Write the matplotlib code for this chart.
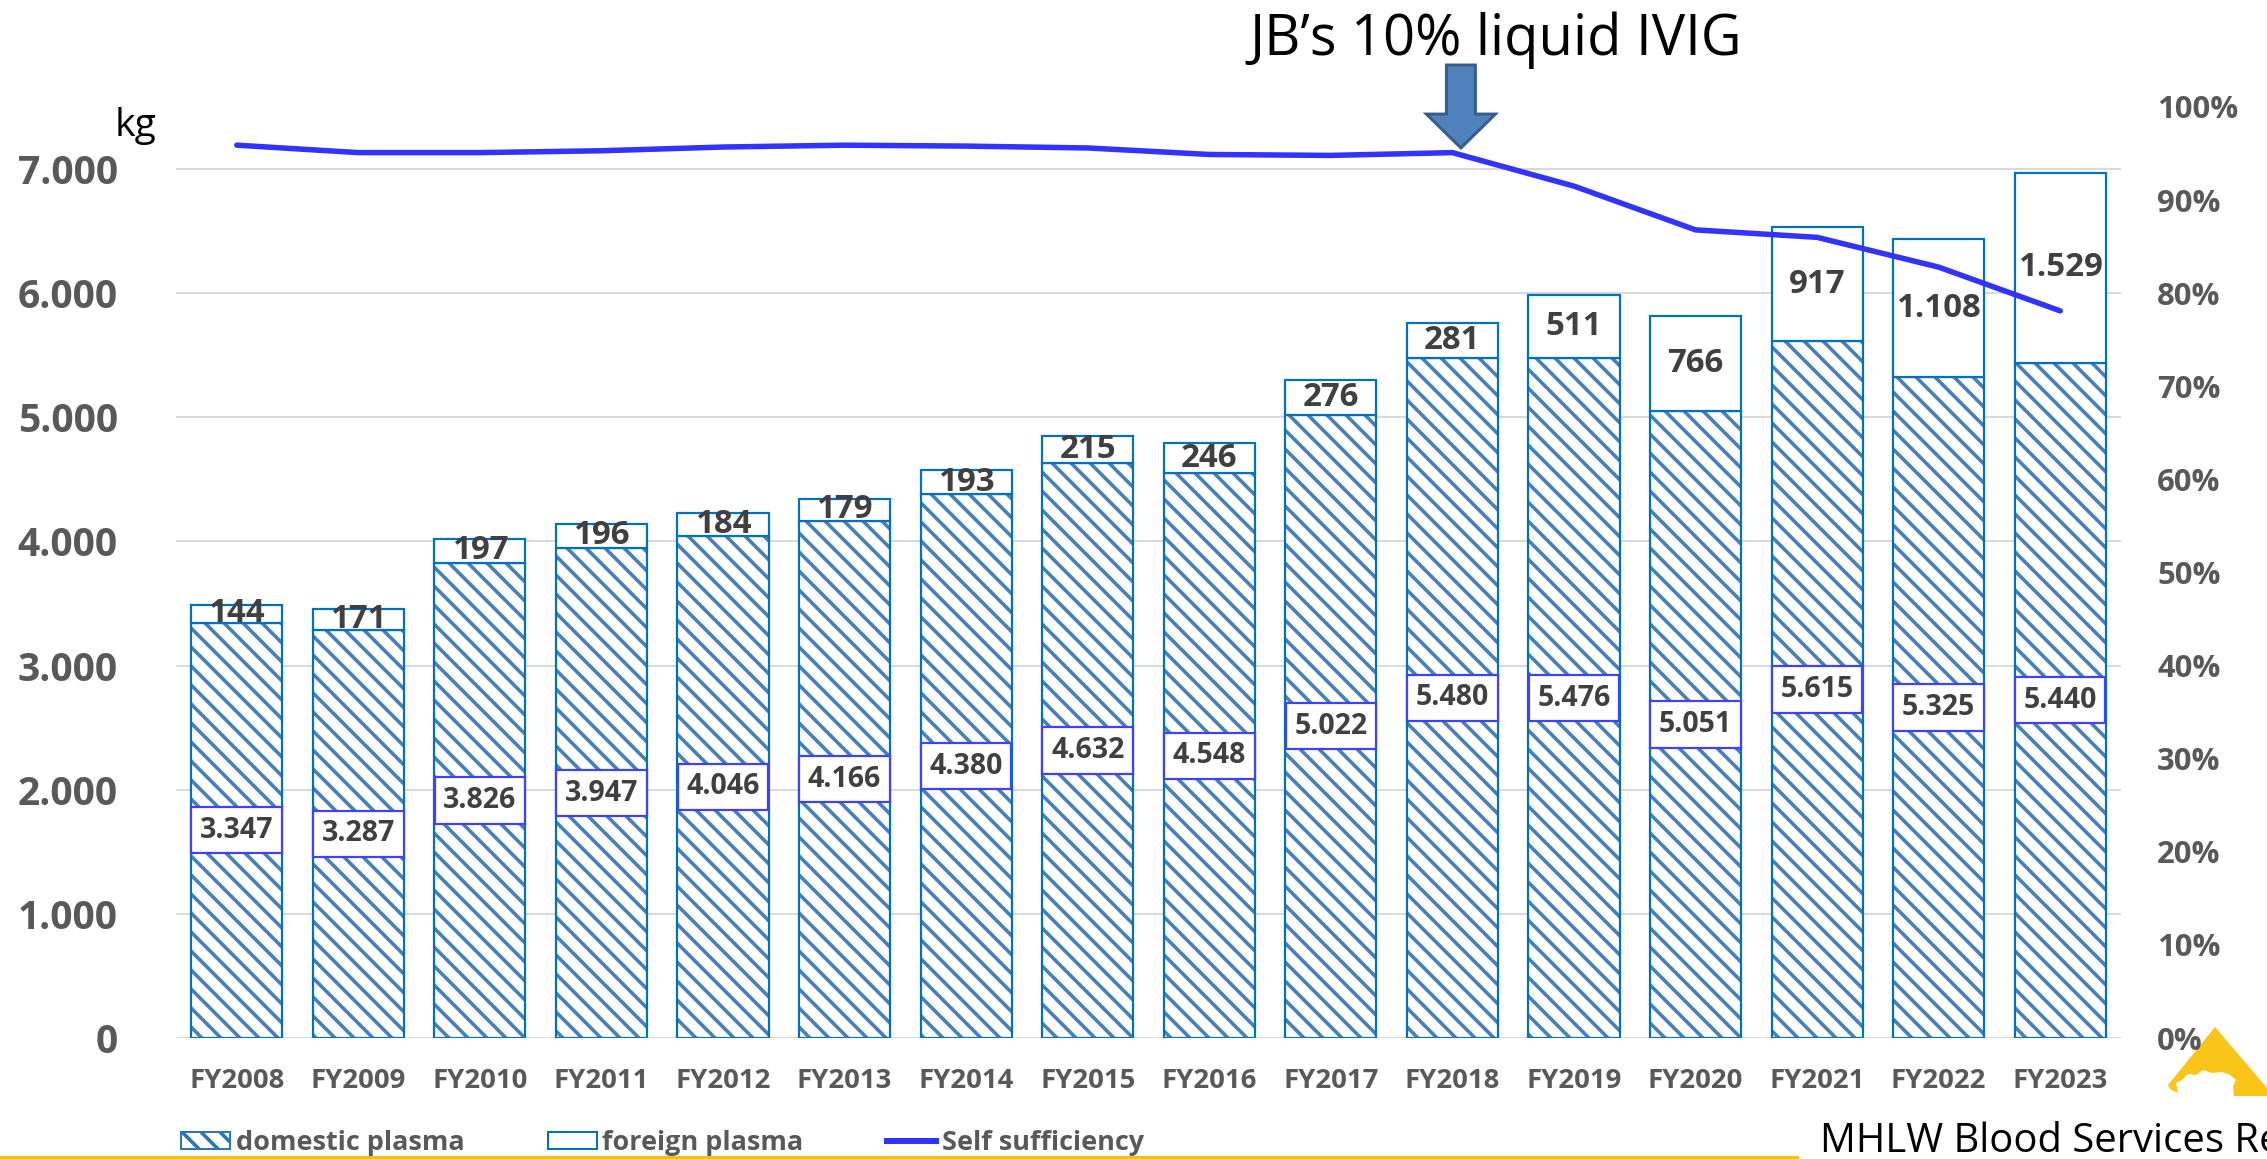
#!/usr/bin/env python3
import matplotlib
matplotlib.use("Agg")
import matplotlib.pyplot as plt
import numpy as np
from matplotlib.lines import Line2D
from matplotlib.patches import Patch, Polygon
from matplotlib.ticker import FuncFormatter

# data
years = ["FY2008", "FY2009", "FY2010", "FY2011", "FY2012", "FY2013",
         "FY2014", "FY2015", "FY2016", "FY2017", "FY2018", "FY2019",
         "FY2020", "FY2021", "FY2022", "FY2023"]
domestic = [3347, 3287, 3826, 3947, 4046, 4166, 4380, 4632, 4548, 5022,
            5480, 5476, 5051, 5615, 5325, 5440]
foreign = [144, 171, 197, 196, 184, 179, 193, 215, 246, 276, 281, 511,
           766, 917, 1108, 1529]
self_suff = [95.9, 95.1, 95.1, 95.3, 95.7, 95.9, 95.8, 95.6, 94.9, 94.8,
             95.1, 91.5, 86.8, 86.0, 82.8, 78.1]
kg_ticks = [0, 1000, 2000, 3000, 4000, 5000, 6000, 7000]
pct_ticks = [0, 10, 20, 30, 40, 50, 60, 70, 80, 90, 100]

# dpi picked so that the hatch spacing matches the reference (~9.5 px)
W, H, DPI = 2267, 1159, 114


def pt(px: float) -> float:
    """pixel size -> points at the figure dpi"""
    return px * 72 / DPI


def fx(px: float) -> float:
    return px / W


def fy(px: float) -> float:
    return 1 - px / H


def kg_fmt(v: float, pos: int) -> str:
    """7000 -> 7.000 (dot as thousands separator)"""
    return f"{v:,.0f}".replace(",", ".")


FONT = ["Open Sans", "DejaVu Sans"]
plt.rcParams["font.family"] = FONT
plt.rcParams["hatch.linewidth"] = pt(3.6)

TICK_GRAY = "#595959"
LABEL_GRAY = "#404040"
BAR_EDGE = "#0070C0"
HATCH_BLUE = "#4A7EBB"
LINE_BLUE = "#3333FF"

fig = plt.figure(figsize=(W / DPI, H / DPI), dpi=DPI)
ax = fig.add_axes([fx(176), fy(1038), fx(2121) - fx(176), fy(107) - fy(1038)])
x = np.arange(len(years))
bw = 0.75

# domestic: hatched fill, then outline on top
ax.bar(x, domestic, bw, color="white", edgecolor=HATCH_BLUE, hatch="\\\\",
       linewidth=0, zorder=2)
ax.bar(x, domestic, bw, fill=False, edgecolor=BAR_EDGE, linewidth=pt(2.2),
       zorder=3)
ax.bar(x, foreign, bw, bottom=domestic, color="white", edgecolor=BAR_EDGE,
       linewidth=pt(2.2), zorder=3)

for i in range(len(years)):
    ax.text(i, domestic[i] / 2, kg_fmt(domestic[i], 0), ha="center",
            va="center", fontsize=pt(28.5), fontweight="bold",
            color=LABEL_GRAY, zorder=5,
            bbox=dict(boxstyle="square,pad=0.3", fc="white", ec="#4040FF",
                      lw=pt(2.2)))
    ax.text(i, domestic[i] + foreign[i] / 2, kg_fmt(foreign[i], 0),
            ha="center", va="center", fontsize=pt(33), fontweight="bold",
            color=LABEL_GRAY, zorder=5)

ax.set_xlim(-0.5, len(years) - 0.5)
ax.set_ylim(0, 7500)
ax.set_yticks(kg_ticks)
ax.yaxis.set_major_formatter(FuncFormatter(kg_fmt))
ax.set_xticks(x, years)
ax.grid(axis="y", color="#D9D9D9", linewidth=pt(2))
ax.set_axisbelow(True)
ax.tick_params(axis="y", length=0, pad=pt(58), labelsize=pt(39),
               labelcolor=TICK_GRAY)
ax.tick_params(axis="x", length=0, pad=pt(30), labelsize=pt(27.5),
               labelcolor=TICK_GRAY)
for lab in ax.get_xticklabels() + ax.get_yticklabels():
    lab.set_fontweight("bold")
for s in ax.spines.values():
    s.set_visible(False)

# self sufficiency on the right axis
ax2 = ax.twinx()
ax2.plot(x, self_suff, color=LINE_BLUE, linewidth=pt(5.5),
         solid_capstyle="round", solid_joinstyle="round")
ax2.set_ylim(0, 100)
ax2.set_yticks(pct_ticks)
ax2.yaxis.set_major_formatter(FuncFormatter(lambda v, p: f"{v:.0f}%"))
ax2.tick_params(axis="y", length=0, pad=pt(36), labelsize=pt(31),
                labelcolor=TICK_GRAY)
for lab in ax2.get_yticklabels():
    lab.set_fontweight("bold")
for s in ax2.spines.values():
    s.set_visible(False)

# block arrow pointing at FY2018
xa = years.index("FY2018") + 0.07
arrow = Polygon([(xa - 0.119, 7838), (xa + 0.119, 7838), (xa + 0.119, 7443),
                 (xa + 0.284, 7443), (xa, 7170), (xa - 0.284, 7443),
                 (xa - 0.119, 7443)],
                closed=True, facecolor="#4F81BD", edgecolor="#385D8A",
                linewidth=pt(3), clip_on=False, zorder=6)
ax.add_patch(arrow)

fig.text(fx(1496), fy(55), "JB’s 10% liquid IVIG", ha="center",
         va="baseline", fontsize=pt(56), color="black")
fig.text(fx(115), fy(136), "kg", ha="left", va="baseline",
         fontsize=pt(39), color="black")
fig.text(fx(1820), fy(1152), "MHLW Blood Services Report", ha="left",
         va="baseline", fontsize=pt(40), color="black")

# legend
handles = [
    Patch(facecolor="white", edgecolor="#2E75B6", hatch="\\\\",
          linewidth=pt(2)),
    Patch(facecolor="white", edgecolor=BAR_EDGE, linewidth=pt(2)),
    Line2D([], [], color=LINE_BLUE, linewidth=pt(6)),
]
fig.legend(handles, ["domestic plasma", "foreign plasma", "Self sufficiency"],
           loc="center left", bbox_to_anchor=(fx(181), fy(1143)), ncol=3,
           frameon=False, borderpad=0, borderaxespad=0,
           handlelength=1.82, handleheight=0.62, handletextpad=0.2,
           columnspacing=3.1,
           prop=dict(family=FONT, weight="bold", size=pt(27)),
           labelcolor=TICK_GRAY)

# yellow rule along the bottom and the logo corner
fig.add_artist(Line2D([0, fx(1797)], [fy(1157.5)] * 2, color="#F8BE13",
                      linewidth=pt(4)))
logo_px = [(2215, 1027), (2267, 1088), (2267, 1096), (2234, 1096),
           (2233, 1086), (2236, 1080), (2230, 1075), (2222, 1072),
           (2212, 1073), (2203, 1070), (2196, 1075), (2188, 1074),
           (2182, 1080), (2176, 1083), (2178, 1093), (2170, 1089),
           (2168, 1085)]
fig.add_artist(Polygon([(fx(a), fy(b)) for a, b in logo_px], closed=True,
                       facecolor="#F9C518", edgecolor="none",
                       transform=fig.transFigure, zorder=-1))

fig.savefig("out.png", dpi=DPI)
